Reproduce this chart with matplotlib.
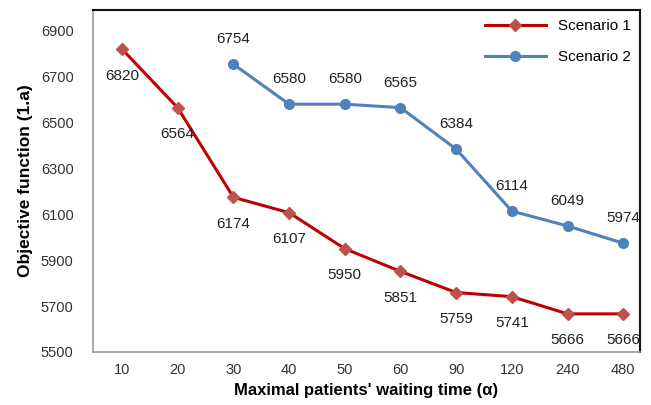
import numpy as np
import matplotlib.pyplot as plt

categories = ['10', '20', '30', '40', '50', '60', '90', '120', '240', '480']
scenario1 = [6820, 6564, 6174, 6107, 5950, 5851, 5759, 5741, 5666, 5666]
scenario2 = [np.nan, np.nan, 6754, 6580, 6580, 6565, 6384, 6114, 6049, 5974]

plt.rcParams['font.family'] = ['Liberation Sans', 'DejaVu Sans']

fig = plt.figure(figsize=(6.51, 4.05), dpi=100)
ax = fig.add_axes([0.143, 0.131, 0.84, 0.844])

xloc = np.arange(len(categories))
ax.plot(xloc, scenario1, color='#C00000', lw=2.2, marker='D', ms=6,
        mfc='#C0504D', mec='#C0504D', label='Scenario 1')
ax.plot(xloc, scenario2, color='#4F81BD', lw=2.2, marker='o', ms=7,
        mfc='#4F81BD', mec='#4F81BD', label='Scenario 2')

for x, v in zip(xloc, scenario1):
    ax.annotate(str(v), (x, v), xytext=(0, -19), textcoords='offset points',
                ha='center', va='center', fontsize=11, color='#222222')
for x, v in zip(xloc, scenario2):
    if not np.isnan(v):
        ax.annotate(str(int(v)), (x, v), xytext=(0, 18), textcoords='offset points',
                    ha='center', va='center', fontsize=11, color='#222222')

ax.set_xlim(-0.52, 9.3)
ax.set_ylim(5500, 6990)
ax.set_yticks(np.arange(5500, 6901, 200))
ax.set_xticks(xloc)
ax.set_xticklabels(categories)
ax.tick_params(length=0, labelsize=10.5, labelcolor='#333333', pad=8)
ax.tick_params(axis='y', pad=14)

ax.set_xlabel("Maximal patients' waiting time (α)", fontsize=12, fontweight='bold', labelpad=4)
ax.set_ylabel('Objective function (1.a)', fontsize=12.5, fontweight='bold', labelpad=6)

for s in ['left', 'bottom']:
    ax.spines[s].set_color('#999999')
    ax.spines[s].set_linewidth(1.2)
for s in ['top', 'right']:
    ax.spines[s].set_color('#111111')
    ax.spines[s].set_linewidth(1.5)

ax.legend(loc='upper right', frameon=False, fontsize=11, handlelength=4,
          labelspacing=1.1, borderaxespad=0.2)

fig.savefig('out.png', dpi=100)
